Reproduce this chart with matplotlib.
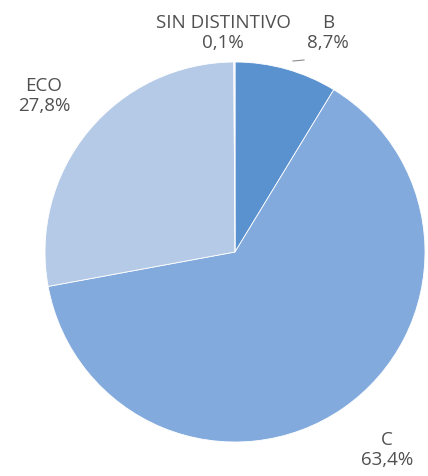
import matplotlib.pyplot as plt

# ----------------------------------------------------------------------
#   Data
# ----------------------------------------------------------------------
categories = ['B', 'C', 'ECO', 'SIN DISTINTIVO']
shares     = [8.7, 63.4, 27.8, 0.1]          # [%]
colors     = ['#5a91cf', '#82aadc', '#b5cae7', '#dbe5f3']

# label positions in pixels (x, y from top)
label_pos  = [(328, 33), (387, 450), (44, 96), (223, 33)]

W, H = 428, 476

fig = plt.figure(figsize=(W / 100, H / 100), dpi=100)
ax = fig.add_axes([0, 0, 1, 1])

ax.pie(shares, colors=colors, startangle=90, counterclock=False,
       center=(235, H - 252), radius=190,
       wedgeprops=dict(linewidth=0.6, edgecolor='white'))

ax.set_xlim(0, W)
ax.set_ylim(0, H)
ax.set_aspect('equal')
ax.axis('off')

for cat, val, (x, y) in zip(categories, shares, label_pos):
    txt = f'{cat}\n{val:.1f}%'.replace('.', ',')
    ax.text(x, H - y, txt, ha='center', va='center', fontsize=13.5,
            family='Open Sans', color='#505050', linespacing=1.15)

# small leader line for the B label
ax.plot([293, 304], [H - 61, H - 60], color='#8c8c8c', linewidth=0.8)

fig.savefig('out.png', dpi=100)
